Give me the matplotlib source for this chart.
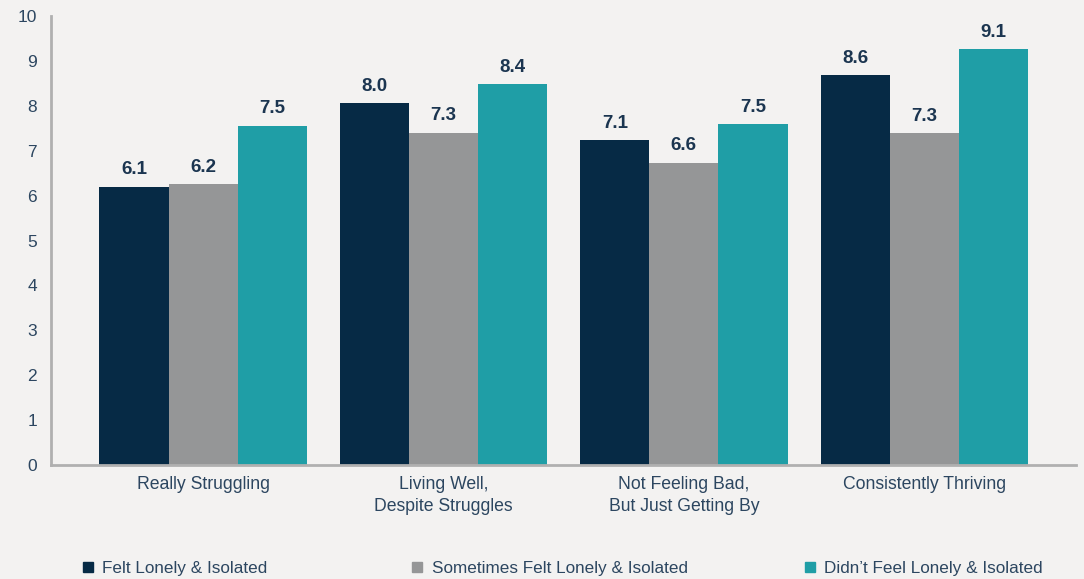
import matplotlib.pyplot as plt
import numpy as np
from matplotlib.patches import Patch

categories = ['Really Struggling', 'Living Well,\nDespite Struggles',
              'Not Feeling Bad,\nBut Just Getting By', 'Consistently Thriving']
series_names = ['Felt Lonely & Isolated', 'Sometimes Felt Lonely & Isolated',
                "Didn\u2019t Feel Lonely & Isolated"]
# bar heights as drawn, and the rounded labels printed above them
felt_lonely = [6.20, 8.06, 7.24, 8.68]
sometimes_lonely = [6.25, 7.40, 6.73, 7.39]
not_lonely = [7.56, 8.48, 7.59, 9.26]
felt_labels = ['6.1', '8.0', '7.1', '8.6']
sometimes_labels = ['6.2', '7.3', '6.6', '7.3']
not_labels = ['7.5', '8.4', '7.5', '9.1']
yticks = list(range(0, 11))

colors = ['#062a45', '#959697', '#1f9ea6']
bg = '#f3f2f1'
text_col = '#2c4660'

plt.rcParams['font.family'] = ['Liberation Sans', 'DejaVu Sans']

fig = plt.figure(figsize=(10.84, 5.79), dpi=100, facecolor=bg)
ax = fig.add_axes([0.047, 0.197, 0.946, 0.775])
ax.set_facecolor(bg)

x = np.arange(len(categories))
w = 0.2875
data = [(felt_lonely, felt_labels), (sometimes_lonely, sometimes_labels), (not_lonely, not_labels)]
for i, ((vals, labs), c) in enumerate(zip(data, colors)):
    bars = ax.bar(x + (i - 1) * w, vals, width=w, color=c)
    for b, v, lab in zip(bars, vals, labs):
        ax.annotate(lab, (b.get_x() + b.get_width() / 2, v), xytext=(0, 9),
                    textcoords='offset points', ha='center', va='baseline',
                    fontsize=13.5, fontweight='bold', color='#1b3550')

ax.set_xlim(-0.633, 3.633)
ax.set_ylim(0, 10)
ax.set_yticks(yticks)
ax.set_xticks(x)
ax.set_xticklabels(categories, fontsize=12.7, color=text_col, linespacing=1.4)
ax.tick_params(axis='y', length=0, labelsize=12.5, labelcolor=text_col, pad=10)
ax.tick_params(axis='x', length=0, pad=8)
for s in ['top', 'right']:
    ax.spines[s].set_visible(False)
for s in ['left', 'bottom']:
    ax.spines[s].set_color('#b0b0b0')
    ax.spines[s].set_linewidth(2)

# legend entries spread across the bottom
legend_x = [0.062, 0.366, 0.728]
for name, c, lx in zip(series_names, colors, legend_x):
    fig.legend(handles=[Patch(color=c, label=name)], loc='center left',
               bbox_to_anchor=(lx, 0.018), frameon=False, fontsize=12.3,
               handlelength=0.6, handleheight=0.6, handletextpad=0.55,
               labelcolor=text_col)

fig.savefig('out.png', dpi=100, facecolor=bg)
